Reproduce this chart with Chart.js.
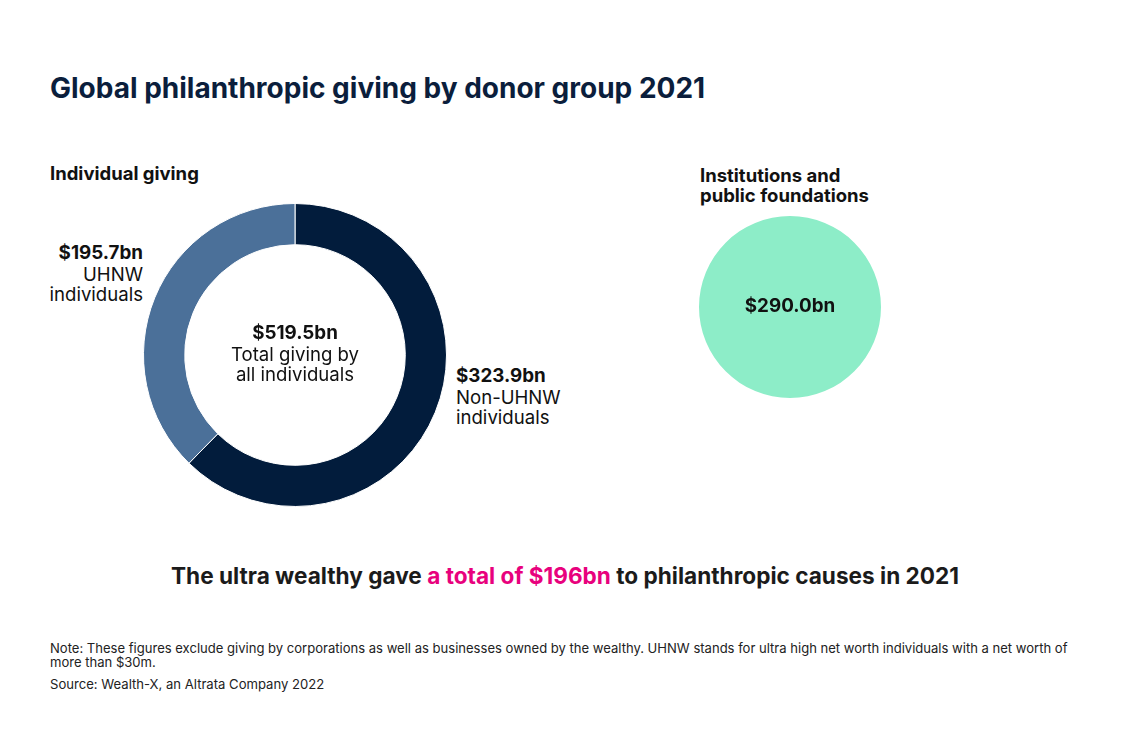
<!DOCTYPE html>
<html>
<head>
<meta charset="utf-8">
<script src="https://cdn.jsdelivr.net/npm/chart.js@4.4.1/dist/chart.umd.min.js"></script>
<style>
  html, body { margin:0; padding:0; background:#fff; }
  body { width:1130px; height:748px; position:relative; overflow:hidden; font-family: Inter, "Noto Sans", sans-serif; color:#111; }
  .abs { position:absolute; }
  #title { left:50px; top:71px; font-size:28px; font-weight:700; color:#0B1E3C; letter-spacing:0; white-space:nowrap; }
  .sub { font-size:18.5px; font-weight:700; color:#111; line-height:20px; white-space:nowrap; }
  .lbl { font-size:18.6px; line-height:20.5px; color:#111; white-space:nowrap; }
  .lbl b { font-weight:700; font-size:18.8px; }
  #headline { left:0; width:1130px; top:562px; text-align:center; font-size:22.6px; font-weight:700; color:#1b1b1b; white-space:nowrap; }
  #headline span { color:#E8017D; }
  #note { left:50px; top:642px; width:1030px; font-size:13.05px; line-height:13.5px; color:#222; }
  #source { left:50px; top:676px; font-size:13.1px; color:#222; white-space:nowrap; }
</style>
</head>
<body>
<div id="title" class="abs">Global philanthropic giving by donor group 2021</div>
<div class="abs sub" style="left:50px;top:163px;">Individual giving</div>
<div class="abs sub" style="left:700px;top:165px;">Institutions and<br>public foundations</div>

<canvas id="donut" class="abs" width="304" height="304" style="left:143px;top:203px;width:304px;height:304px;"></canvas>
<canvas id="circle" class="abs" width="182" height="182" style="left:699px;top:216px;width:182px;height:182px;"></canvas>

<div id="lblUhnw" class="abs lbl" style="right:987px;top:242px;text-align:right;"></div>
<div id="lblCenter" class="abs lbl" style="left:195px;width:200px;top:322px;text-align:center;"></div>
<div id="lblNon" class="abs lbl" style="left:456px;top:365px;"></div>
<div id="lblInst" class="abs lbl" style="left:700px;width:180px;top:295px;text-align:center;"></div>

<div id="headline" class="abs">The ultra wealthy gave <span>a total of $196bn</span> to philanthropic causes in 2021</div>
<div id="note" class="abs">Note: These figures exclude giving by corporations as well as businesses owned by the wealthy. UHNW stands for ultra high net worth individuals with a net worth of more than $30m.</div>
<div id="source" class="abs">Source: Wealth-X, an Altrata Company 2022</div>

<script>
// Data
const individualCategories = ["Non-UHNW individuals", "UHNW individuals"];
const individualValues = [323.9, 195.7];
const individualColors = ["#021C3C", "#4B7099"];
const individualTotal = 519.5;
const institutionCategories = ["Institutions and public foundations"];
const institutionValues = [290.0];
const institutionColors = ["#8DEDC8"];

const fmt = v => "$" + v.toFixed(1) + "bn";

document.getElementById("lblNon").innerHTML = "<b>" + fmt(individualValues[0]) + "</b><br>Non-UHNW<br>individuals";
document.getElementById("lblUhnw").innerHTML = "<b>" + fmt(individualValues[1]) + "</b><br>UHNW<br>individuals";
document.getElementById("lblCenter").innerHTML = "<b>" + fmt(individualTotal) + "</b><br>Total giving by<br>all individuals";
document.getElementById("lblInst").innerHTML = "<b>" + fmt(institutionValues[0]) + "</b>";

const common = {
  responsive: false,
  animation: false,
  events: [],
  layout: { padding: 0 },
  plugins: { legend: { display: false }, tooltip: { enabled: false }, title: { display: false } }
};

new Chart(document.getElementById("donut"), {
  type: "doughnut",
  data: {
    labels: individualCategories,
    datasets: [{ data: individualValues, backgroundColor: individualColors, borderColor: "#ffffff", borderWidth: 1 }]
  },
  options: Object.assign({}, common, { cutout: "72.8%" })
});

new Chart(document.getElementById("circle"), {
  type: "pie",
  data: {
    labels: institutionCategories,
    datasets: [{ data: institutionValues, backgroundColor: institutionColors, borderWidth: 0 }]
  },
  options: Object.assign({}, common)
});
</script>
</body>
</html>
